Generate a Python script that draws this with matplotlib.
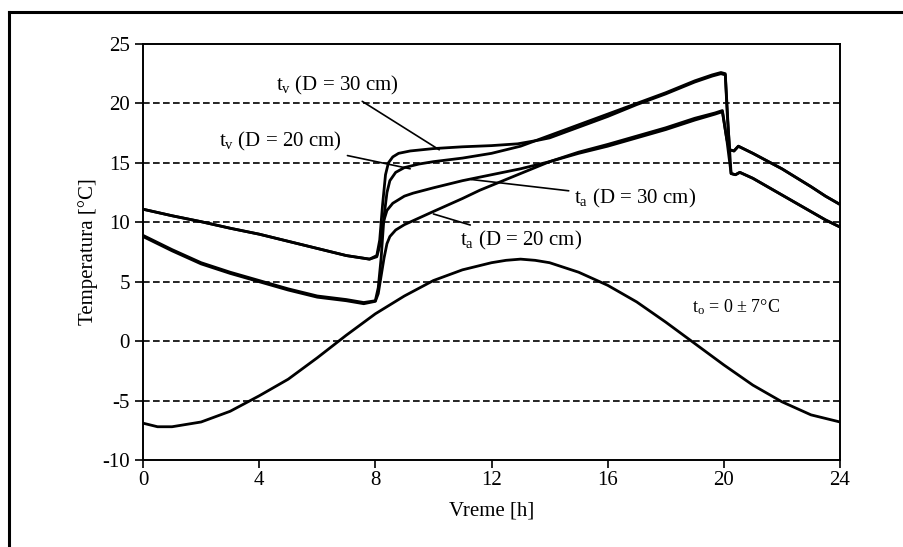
import matplotlib
matplotlib.use("Agg")
import matplotlib.pyplot as plt
from matplotlib.lines import Line2D

plt.rcParams['font.family'] = ['Liberation Serif', 'DejaVu Serif']
plt.rcParams['mathtext.fontset'] = 'custom'
plt.rcParams['mathtext.rm'] = 'Liberation Serif'
plt.rcParams['mathtext.it'] = 'Liberation Serif:italic'
plt.rcParams['axes.unicode_minus'] = False

# outdoor temperature
hours_o = [0, 0.5, 1, 2, 3, 4, 5, 6, 7, 8, 9, 10, 11, 12, 12.5, 13, 13.5, 14,
           15, 16, 17, 18, 19, 20, 21, 22, 23, 24]
temp_o = [-6.9, -7.2, -7.2, -6.8, -5.9, -4.6, -3.2, -1.4, 0.5, 2.3, 3.8, 5.1, 6.0, 6.6,
          6.8, 6.9, 6.8, 6.6, 5.8, 4.7, 3.3, 1.6, -0.2, -2.0, -3.7, -5.1, -6.2, -6.8]

# t_v, D = 30 cm
hours_v30 = [0, 1, 2, 3, 4, 5, 6, 7, 7.8, 8.05, 8.15, 8.25, 8.35, 8.45, 8.6, 8.8, 9.2,
             10, 11, 12, 12.9, 13.6, 14, 15, 16, 17, 18, 19,
             19.6, 19.9, 20.05, 20.12, 20.2, 20.35, 20.5, 21, 22, 23, 23.5, 24]
temp_v30 = [11.1, 10.55, 10.05, 9.5, 9.0, 8.4, 7.8, 7.2, 6.9, 7.2, 8.5, 11.5, 14.0, 15.0, 15.5, 15.8, 16.0,
            16.2, 16.35, 16.45, 16.6, 16.9, 17.1, 18.0, 18.9, 19.9, 20.8, 21.8,
            22.3, 22.5, 22.4, 19.0, 16.1, 16.0, 16.4, 15.8, 14.5, 13.0, 12.2, 11.5]

# t_v, D = 20 cm
hours_v20 = [0, 1, 2, 3, 4, 5, 6, 7, 7.6, 8.0, 8.1, 8.2, 8.3, 8.4, 8.5, 8.7, 9.0, 9.5,
             10, 11, 12, 13, 14, 15, 16, 17, 18, 19,
             19.6, 19.9, 20.05, 20.15, 20.25, 20.4, 20.55, 21, 22, 23, 23.5, 24]
temp_v20 = [8.9, 7.7, 6.6, 5.8, 5.1, 4.4, 3.8, 3.5, 3.25, 3.4, 4.5, 7.0, 10.5, 12.5, 13.5, 14.2, 14.6, 14.9,
            15.1, 15.4, 15.8, 16.4, 17.3, 18.2, 19.1, 20.0, 20.9, 21.9,
            22.4, 22.6, 22.5, 18.0, 14.1, 14.0, 14.2, 13.7, 12.3, 10.9, 10.2, 9.6]

# t_a, D = 30 cm
hours_a30 = [0, 1, 2, 3, 4, 5, 6, 7, 7.8, 8.05, 8.15, 8.25, 8.4, 8.6, 9.0, 9.3,
             10, 11, 12, 13, 14, 15, 16, 17, 18, 19,
             19.7, 19.95, 20.1, 20.2, 20.35, 20.5, 21, 22, 23, 23.5, 24]
temp_a30 = [11.1, 10.55, 10.05, 9.5, 9.0, 8.4, 7.8, 7.2, 6.9, 7.1, 8.0, 9.8, 11.0, 11.6, 12.2, 12.45,
            12.9, 13.5, 14.0, 14.5, 15.1, 15.8, 16.4, 17.1, 17.8, 18.6,
            19.1, 19.3, 17.0, 16.1, 16.0, 16.4, 15.8, 14.5, 13.0, 12.2, 11.5]

# t_a, D = 20 cm
hours_a20 = [0, 1, 2, 3, 4, 5, 6, 7, 7.6, 8.0, 8.1, 8.2, 8.3, 8.4, 8.5, 8.7, 9.0, 9.9,
             11, 11.6, 12, 13, 14, 15, 16, 17, 18, 19,
             19.7, 19.95, 20.1, 20.25, 20.4, 20.55, 21, 22, 23, 23.5, 24]
temp_a20 = [8.8, 7.6, 6.5, 5.7, 5.0, 4.3, 3.7, 3.4, 3.15, 3.35, 4.0, 5.5, 7.0, 8.2, 8.8, 9.35, 9.8, 10.8,
            12.0, 12.7, 13.1, 14.1, 15.1, 15.9, 16.55, 17.25, 17.95, 18.75,
            19.2, 19.4, 17.0, 14.1, 14.0, 14.2, 13.7, 12.3, 10.9, 10.2, 9.6]

x_ticks = [0, 4, 8, 12, 16, 20, 24]
y_ticks = [-10, -5, 0, 5, 10, 15, 20, 25]

fig = plt.figure(figsize=(9.04, 5.47), dpi=100)
ax = fig.add_axes([0.1582, 0.159, 0.771, 0.7606])

for y in [-5, 0, 5, 10, 15, 20]:
    ax.axhline(y, color='black', lw=1.2, linestyle=(0, (4, 2)), zorder=1)

lw = 2.0
ax.plot(hours_o, temp_o, color='black', lw=lw)
ax.plot(hours_v30, temp_v30, color='black', lw=lw)
ax.plot(hours_v20, temp_v20, color='black', lw=lw)
ax.plot(hours_a30, temp_a30, color='black', lw=lw)
ax.plot(hours_a20, temp_a20, color='black', lw=lw)

ax.set_xlim(0, 24)
ax.set_ylim(-10, 25)
ax.set_xticks(x_ticks)
ax.set_yticks(y_ticks)
ax.tick_params(direction='out', length=6, width=1.2, labelsize=15, colors='black')
ax.tick_params(axis='x', pad=2)
for s in ax.spines.values():
    s.set_linewidth(1.4)

ax.set_xlabel('Vreme [h]', fontsize=15, labelpad=8)
ax.set_ylabel('Temperatura [°C]', fontsize=15, labelpad=3)

fs = 15
ax.annotate(r'$\mathrm{t_v}$ (D = 30 cm)', xy=(10.2, 16.1), xytext=(8.8, 21.5),
            fontsize=fs, ha='right', va='center',
            arrowprops=dict(arrowstyle='-', color='black', lw=1.2, shrinkB=0, shrinkA=2))
ax.annotate(r'$\mathrm{t_v}$ (D = 20 cm)', xy=(9.2, 14.5), xytext=(6.85, 16.8),
            fontsize=fs, ha='right', va='center',
            arrowprops=dict(arrowstyle='-', color='black', lw=1.2, shrinkB=0, shrinkA=2))
ax.annotate(r'$\mathrm{t_a}$ (D = 30 cm)', xy=(11.3, 13.6), xytext=(14.85, 12.0),
            fontsize=fs, ha='left', va='center',
            arrowprops=dict(arrowstyle='-', color='black', lw=1.2, shrinkB=0, shrinkA=2))
ax.annotate(r'$\mathrm{t_a}$ (D = 20 cm)', xy=(10.0, 10.7), xytext=(10.9, 8.5),
            fontsize=fs, ha='left', va='center',
            arrowprops=dict(arrowstyle='-', color='black', lw=1.2, shrinkB=0, shrinkA=2))
ax.text(18.9, 2.9, r'$\mathrm{t_o}$ = 0 ± 7°C', fontsize=13, ha='left', va='center')

# outer frame of the scanned figure
fig.add_artist(Line2D([0.01, 1.0], [0.978, 0.978], color='black', lw=2.2))
fig.add_artist(Line2D([0.01, 0.01], [0.0, 0.978], color='black', lw=2.2))

fig.savefig('out.png', dpi=100)
